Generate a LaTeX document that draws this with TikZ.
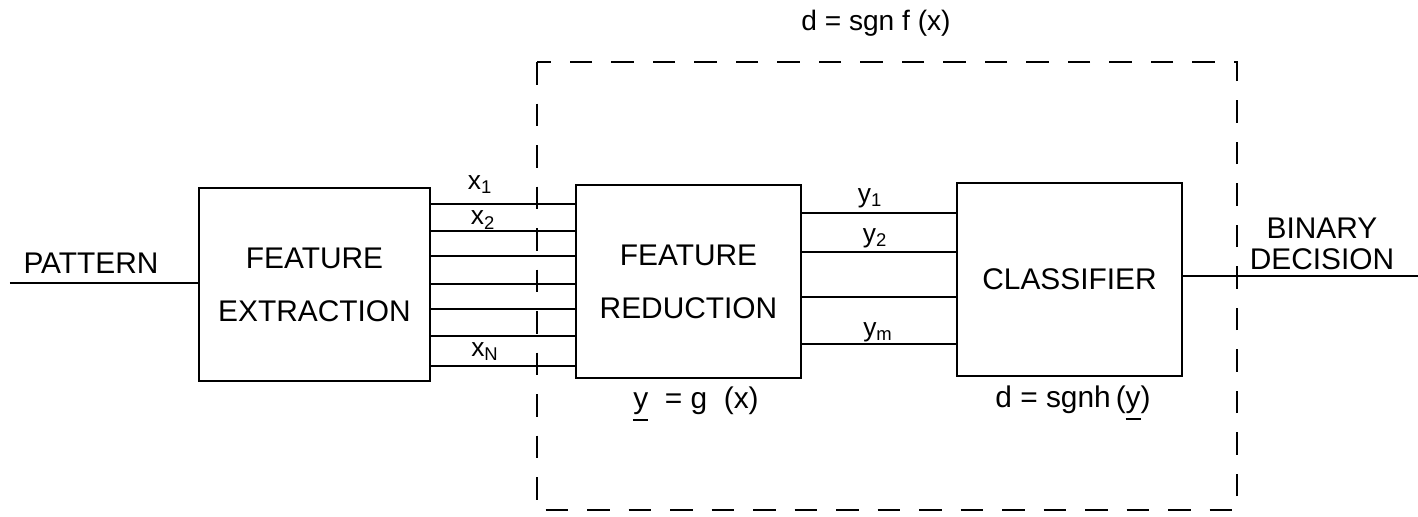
\documentclass[tikz,border=0pt]{standalone}
\usepackage{fontspec}
\setmainfont{Liberation Sans}
\usetikzlibrary{positioning,calc}
\newcommand{\barunder}[1]{\setbox0\hbox{#1}\rlap{\raisebox{-0.42em}{\rule{\wd0}{1.1pt}}}\box0}
\tikzset{
  block/.style={draw,line width=1.6pt,minimum width=4.5cm,minimum height=3.86cm,
    align=center,inner sep=0pt,font=\fontsize{17}{30}\selectfont},
  wire/.style={line width=1.2pt},
  lbl/.style={inner sep=0pt,font=\fontsize{17}{18}\selectfont},
  sublbl/.style={inner sep=0pt,font=\fontsize{15}{18}\selectfont},
  frame/.style={line width=1.5pt,dash pattern=on 0.45cm off 0.38cm}
}

\begin{document}
\begin{tikzpicture}
  \useasboundingbox (0,0) rectangle (28.36,-10.32);
  \node[block,minimum width=4.62cm] (fe) at (6.29,-5.69) {FEATURE\\EXTRACTION};
  \node[block] (fr) at (13.77,-5.63) {FEATURE\\REDUCTION};
  \node[block] (cl) at (21.39,-5.59) {CLASSIFIER};
  \coordinate (src) at (0.2,-5.66);
  \coordinate (out) at (28.36,-5.52);
  \draw[wire] (src) -- (fe.west |- src);
  \draw[wire] (cl.east |- out) -- (out);
  \foreach \y in {-4.08,-4.62,-5.12,-5.68,-6.18,-6.72,-7.32}
    \draw[wire] (fe.east |- 0,\y) -- (fr.west |- 0,\y);
  \foreach \y in {-4.26,-5.04,-5.94,-6.88}
    \draw[wire] (fr.east |- 0,\y) -- (cl.west |- 0,\y);
  \draw[frame] (10.74,-1.24) rectangle (24.74,-10.2);
  \node[lbl] (pat) at (1.82,-5.26) {PATTERN};
  \node[lbl,align=center] (bin) at (26.44,-4.88) {BINARY\\DECISION};
  \node[sublbl] (x1) at (9.60,-3.70) {x\textsubscript{1}};
  \node[sublbl] (x2) at (9.66,-4.40) {x\textsubscript{2}};
  \node[sublbl] (xn) at (9.70,-7.04) {x\textsubscript{N}};
  \node[sublbl] (y1) at (17.40,-3.96) {y\textsubscript{1}};
  \node[sublbl] (y2) at (17.50,-4.76) {y\textsubscript{2}};
  \node[sublbl] (ym) at (17.56,-6.64) {y\textsubscript{m}};
  \node[lbl,font=\fontsize{16}{18}\selectfont] (fx) at (17.52,-0.46) {d = sgn f (x)};
  \node[lbl] (gx) at (13.92,-8.08) {\barunder{y}\ \ =\ g\ \ (x)};
  \node[lbl] (hy) at (21.46,-8.06) {d = sgnh\,(\barunder{y})};
\end{tikzpicture}
\end{document}
